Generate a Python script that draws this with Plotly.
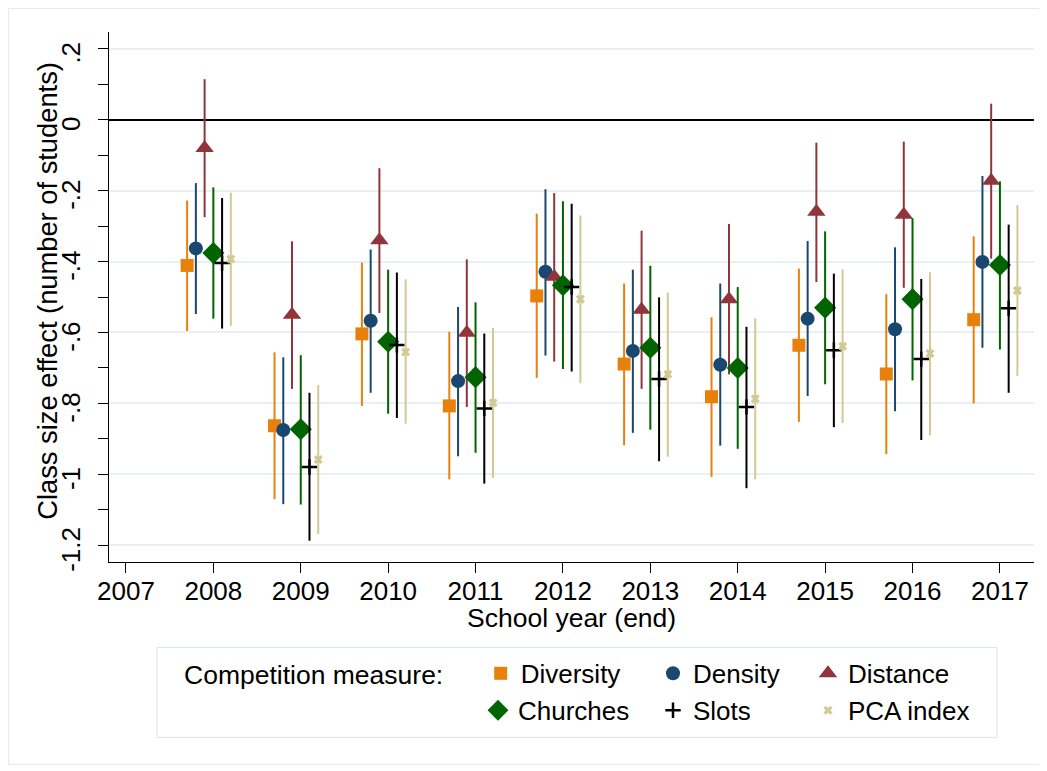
import plotly.graph_objects as go

# ---------------- data ----------------
years = [2008, 2009, 2010, 2011, 2012, 2013, 2014, 2015, 2016, 2017]
x_ticks = [2007, 2008, 2009, 2010, 2011, 2012, 2013, 2014, 2015, 2016, 2017]
y_tickvals = [-1.2, -1.0, -0.8, -0.6, -0.4, -0.2, 0.0, 0.2]
y_ticktext = ["-1.2", "-1", "-.8", "-.6", "-.4", "-.2", "0", ".2"]

series_names = ["Diversity", "Density", "Distance", "Churches", "Slots", "PCA index"]

diversity_coef = [-0.411, -0.863, -0.604, -0.807, -0.497, -0.689, -0.781, -0.636, -0.717, -0.564]
diversity_lo = [-0.596, -1.070, -0.807, -1.014, -0.728, -0.918, -1.007, -0.852, -0.943, -0.800]
diversity_hi = [-0.228, -0.656, -0.403, -0.598, -0.265, -0.462, -0.557, -0.420, -0.492, -0.329]

density_coef = [-0.363, -0.875, -0.567, -0.737, -0.429, -0.652, -0.691, -0.561, -0.591, -0.401]
density_lo = [-0.548, -1.084, -0.770, -0.949, -0.665, -0.883, -0.919, -0.779, -0.822, -0.643]
density_hi = [-0.179, -0.670, -0.366, -0.528, -0.196, -0.423, -0.462, -0.342, -0.360, -0.159]

distance_coef = [-0.080, -0.550, -0.340, -0.601, -0.443, -0.536, -0.506, -0.260, -0.268, -0.172]
distance_lo = [-0.275, -0.759, -0.545, -0.810, -0.682, -0.759, -0.718, -0.458, -0.474, -0.392]
distance_hi = [0.114, -0.343, -0.137, -0.394, -0.207, -0.313, -0.294, -0.065, -0.062, 0.045]

churches_coef = [-0.376, -0.873, -0.626, -0.726, -0.467, -0.643, -0.700, -0.530, -0.506, -0.410]
churches_lo = [-0.561, -1.085, -0.829, -0.939, -0.703, -0.874, -0.928, -0.746, -0.735, -0.648]
churches_hi = [-0.191, -0.664, -0.423, -0.515, -0.230, -0.412, -0.472, -0.315, -0.278, -0.174]

slots_coef = [-0.404, -0.979, -0.635, -0.814, -0.472, -0.731, -0.810, -0.650, -0.675, -0.532]
slots_lo = [-0.589, -1.187, -0.841, -1.026, -0.710, -0.963, -1.039, -0.867, -0.903, -0.770]
slots_hi = [-0.221, -0.770, -0.431, -0.603, -0.237, -0.501, -0.584, -0.434, -0.449, -0.296]

pca_coef = [-0.393, -0.958, -0.655, -0.798, -0.506, -0.718, -0.787, -0.639, -0.659, -0.482]
pca_lo = [-0.581, -1.168, -0.857, -1.010, -0.743, -0.950, -1.014, -0.855, -0.890, -0.722]
pca_hi = [-0.206, -0.748, -0.450, -0.587, -0.270, -0.487, -0.560, -0.422, -0.430, -0.241]

series_data = {
    "Diversity": (diversity_coef, diversity_lo, diversity_hi),
    "Density": (density_coef, density_lo, density_hi),
    "Distance": (distance_coef, distance_lo, distance_hi),
    "Churches": (churches_coef, churches_lo, churches_hi),
    "Slots": (slots_coef, slots_lo, slots_hi),
    "PCA index": (pca_coef, pca_lo, pca_hi),
}
legend_title = "Competition measure:"
x_title = "School year (end)"
y_title = "Class size effect (number of students)"

# ---------------- styles ----------------
styles = {
    "Diversity": dict(offset=-0.3, symbol="square", size=13, color="#E8800C", lw=0),
    "Density": dict(offset=-0.2, symbol="circle", size=14, color="#1A476F", lw=0),
    "Distance": dict(offset=-0.1, symbol="triangle-up", size=16, color="#90353B", lw=0),
    "Churches": dict(offset=0.0, symbol="diamond", size=17, color="#006400", lw=0),
    "Slots": dict(offset=0.1, symbol="cross-thin", size=11, color="#000000", lw=2.5),
    "PCA index": dict(offset=0.2, symbol="x", size=8, color="#D3C992", lw=0),
}
# legend placement (page pixel positions of each entry's marker centre)
legend_pos = {
    "Diversity": (500, 675), "Density": (675, 675), "Distance": (830, 675),
    "Churches": (500, 712), "Slots": (675, 712), "PCA index": (830, 712),
}

FONT = "Liberation Sans, Arial, sans-serif"
OFF = 8  # the page body margin that offsets the figure in the window
W, H = 1047 - OFF, 771 - OFF
ml, mt = 109 - OFF, 32 - OFF
mr = W - (1034 - OFF)
mb = H - (562.5 - OFF)
pw = W - ml - mr
ph = H - mt - mb


def px_to_paper_x(px):
    return (px - OFF - ml) / pw


def px_to_paper_y(py):
    return 1 - (py - OFF - mt) / ph


fig = go.Figure()
legend_layouts = {}
for i, name in enumerate(series_names):
    coef, lo, hi = series_data[name]
    st = styles[name]
    xs = [y + st["offset"] for y in years]
    lname = "legend" if i == 0 else f"legend{i + 1}"
    fig.add_trace(go.Scatter(
        x=xs, y=coef, mode="markers", name=name, legend=lname,
        marker=dict(symbol=st["symbol"], size=st["size"], color=st["color"],
                    line=dict(width=st["lw"], color=st["color"])),
        error_y=dict(type="data", symmetric=False,
                     array=[h - c for h, c in zip(hi, coef)],
                     arrayminus=[c - l for c, l in zip(coef, lo)],
                     color=st["color"], thickness=2, width=0),
    ))
    mx, my = legend_pos[name]
    leg = dict(
        orientation="h", xanchor="left", yanchor="middle",
        x=px_to_paper_x(mx - 22), y=px_to_paper_y(my - 1),
        font=dict(size=26, family=FONT, color="black"),
        bgcolor="rgba(0,0,0,0)", borderwidth=0, itemsizing="trace",
    )
    if i == 0:
        leg["title"] = dict(text=legend_title + "\u00a0" * 4, side="left",
                            font=dict(size=26.5, family=FONT, color="black"))
        leg["x"] = px_to_paper_x(182)
    legend_layouts[lname] = leg

fig.update_layout(
    width=W, height=H,
    margin=dict(l=ml, r=mr, t=mt, b=mb, pad=0, autoexpand=False),
    paper_bgcolor="white", plot_bgcolor="white",
    font=dict(family=FONT, size=26, color="black"),
    showlegend=True,
    xaxis=dict(
        range=[2006.806, 2017.39], tickmode="array", tickvals=x_ticks,
        ticktext=[str(t) for t in x_ticks],
        ticks="outside", ticklen=10, tickwidth=1, tickcolor="black",
        showline=True, linecolor="black", linewidth=1, showgrid=False,
        zeroline=False, ticklabelstandoff=-4,
        tickfont=dict(size=26), automargin=False,
    ),
    yaxis=dict(
        range=[-1.247, 0.247], tickmode="array", tickvals=y_tickvals,
        ticktext=y_ticktext, tickangle=-90, ticklabelstandoff=8,
        ticklabelshift=8,
        ticks="outside", ticklen=10, tickwidth=1, tickcolor="black",
        minor=dict(tickmode="linear", tick0=0, dtick=0.1, ticks="outside",
                   ticklen=10, tickwidth=1, tickcolor="black", showgrid=False),
        showline=True, linecolor="black", linewidth=1,
        showgrid=True, gridcolor="#EAF0F2", gridwidth=1.5,
        zeroline=True, zerolinecolor="black", zerolinewidth=1.5,
        tickfont=dict(size=26), automargin=False,
    ),
    **legend_layouts,
)

# axis titles
fig.add_annotation(text=x_title, xref="paper", yref="paper",
                   x=px_to_paper_x(571), y=px_to_paper_y(619),
                   xanchor="center", yanchor="middle", showarrow=False,
                   font=dict(size=26.5, family=FONT, color="black"))
fig.add_annotation(text=y_title, xref="paper", yref="paper",
                   x=px_to_paper_x(48), y=px_to_paper_y(291), textangle=-90,
                   xanchor="center", yanchor="middle", showarrow=False,
                   font=dict(size=27.3, family=FONT, color="black"))

# legend frame
fig.add_shape(type="rect", xref="paper", yref="paper",
              x0=px_to_paper_x(157), x1=px_to_paper_x(997),
              y0=px_to_paper_y(738), y1=px_to_paper_y(648),
              line=dict(color="#DCE4E6", width=1), fillcolor="rgba(0,0,0,0)",
              layer="below")
# light outer frame of the graph region
fig.add_shape(type="rect", xref="paper", yref="paper",
              x0=px_to_paper_x(OFF + 0.5), x1=px_to_paper_x(1041),
              y0=px_to_paper_y(765), y1=px_to_paper_y(OFF + 0.5),
              line=dict(color="#E3EAEC", width=1), fillcolor="rgba(0,0,0,0)",
              layer="below")

fig.write_html("out.html")
